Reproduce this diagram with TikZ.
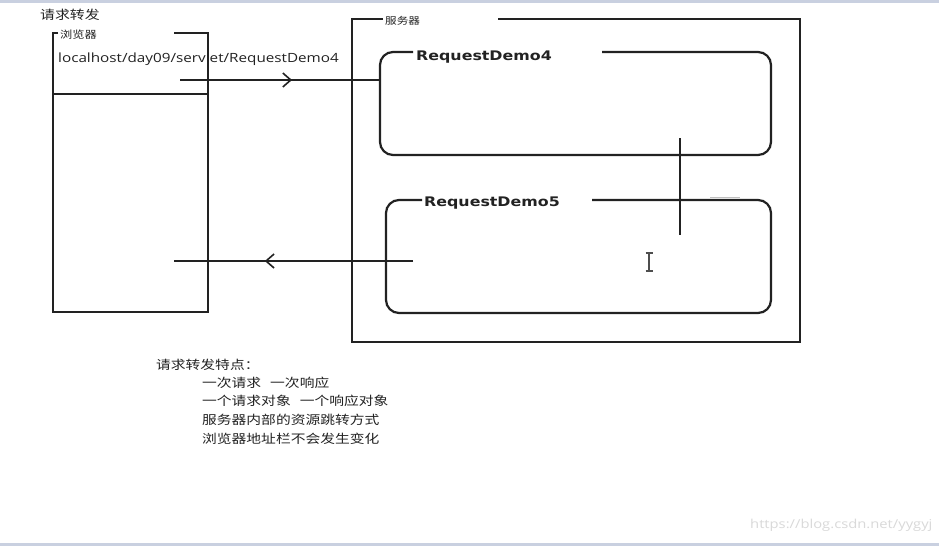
\documentclass[tikz,border=0pt]{standalone}
\usepackage{fontspec}
\setmainfont{Open Sans}[FakeStretch=1.2]
\newfontfamily\cjk{Noto Sans CJK SC}[FakeStretch=1.2]
\newfontfamily\boldsans{DejaVu Sans}[FakeStretch=1.2]
\usetikzlibrary{arrows.meta,decorations.markings}
\definecolor{ink}{HTML}{222222}
\definecolor{band}{HTML}{C9D0E0}
\tikzset{
  box/.style={draw=ink,line width=2.2pt},
  conn/.style={draw=ink,line width=1.6pt},
  lbl/.style={inner sep=0pt,text=ink},
  midarrow/.style={postaction={decorate},decoration={markings,mark=at position #1 with {\arrow[ink]{Straight Barb[length=8pt,width=14pt,line width=1.6pt]}}}},
}
\begin{document}
\begin{tikzpicture}[x=1pt,y=-1pt]
\useasboundingbox (0,0) rectangle (939,546);
\fill[white] (0,0) rectangle (939,546);
\fill[band] (0,0) rectangle (939,3);
\fill[band] (0,543) rectangle (939,546);

% title
\node[lbl,anchor=west,font=\cjk\fontsize{12.4}{15}\selectfont] (title) at (40,15) {请求转发};

% browser
\node[lbl,anchor=west,font=\cjk\fontsize{10.2}{12}\selectfont] (blabel) at (60,35) {浏览器};
\draw[box] (58,33) -- (53,33) -- (53,312) -- (208,312) -- (208,33) -- (174,33);
\draw[box] (53,94) -- (208,94);
\node[lbl,anchor=west,font=\fontsize{12.7}{15}\selectfont] (url) at (58,59) {localhost/day09/servlet/RequestDemo4};

% server
\node[lbl,anchor=west,font=\cjk\fontsize{9.7}{12}\selectfont] (slabel) at (385,21) {服务器};
\draw[box] (383,19) -- (352,19) -- (352,342) -- (800,342) -- (800,19) -- (498,19);

% RequestDemo4
\node[lbl,anchor=west,font=\boldsans\bfseries\fontsize{13.2}{16}\selectfont] (rd4) at (416,57) {RequestDemo4};
\draw[box,rounded corners=13pt] (413,52) -- (380,52) -- (380,155) -- (771,155) -- (771,52) -- (602,52);

% RequestDemo5
\node[lbl,anchor=west,font=\boldsans\bfseries\fontsize{13.2}{16}\selectfont] (rd5) at (424,203) {RequestDemo5};
\draw[box,rounded corners=13pt] (422,200) -- (386,200) -- (386,313) -- (771,313) -- (771,200) -- (592,200);
\draw[draw=gray!50,line width=1pt] (710,197) -- (740,197);

% forward line between servlets
\coordinate (f1) at (680,138);
\coordinate (f2) at (680,235);
\draw[conn] (f1) -- (f2);

% request / response arrows
\coordinate (a1s) at (180,80);
\coordinate (a1e) at (380,80);
\draw[conn,midarrow=0.56] (a1s) -- (a1e);
\coordinate (a2s) at (413,261);
\coordinate (a2e) at (174,261);
\draw[conn,midarrow=0.62] (a2s) -- (a2e);

% text cursor
\draw[draw=ink!80,line width=1.2pt] (649,253) -- (649,271) (645.5,253) -- (652.5,253) (645.5,271) -- (652.5,271);

% features
\node[lbl,anchor=west,font=\cjk\fontsize{12.3}{15}\selectfont] (feat) at (156,365) {请求转发特点：};
\node[lbl,anchor=north west,align=left,font=\cjk\fontsize{12.3}{18.7}\selectfont] (list) at (202,376.5) {一次请求\hspace{9pt}一次响应\\一个请求对象\hspace{9pt}一个响应对象\\服务器内部的资源跳转方式\\浏览器地址栏不会发生变化};

% watermark
\node[lbl,anchor=west,text=gray!30,font=\fontsize{12.3}{14}\selectfont] (wm) at (750,525) {https://blog.csdn.net/yygyj};
\end{tikzpicture}
\end{document}
